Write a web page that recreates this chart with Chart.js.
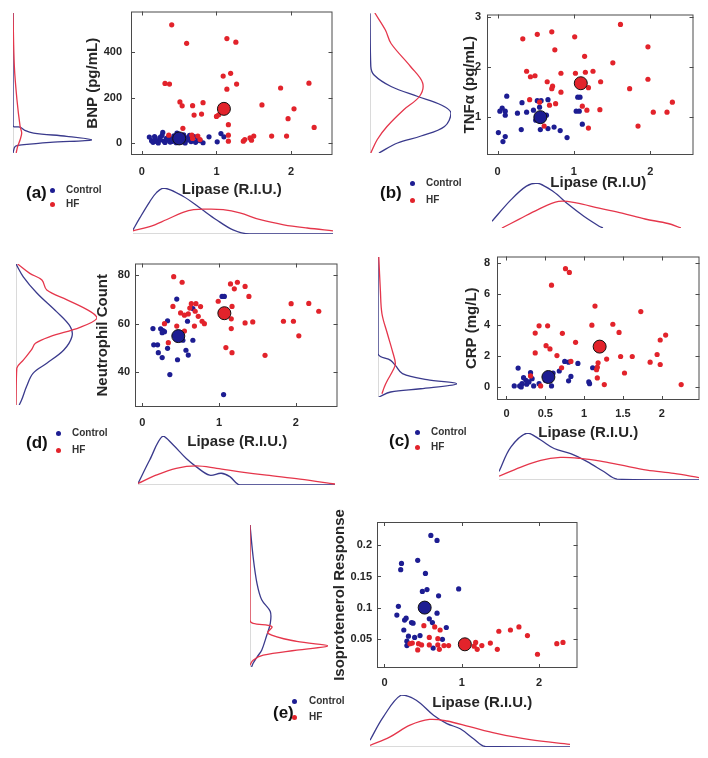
<!DOCTYPE html>
<html>
<head>
<meta charset="utf-8">
<script src="https://cdn.jsdelivr.net/npm/chart.js@4.4.1/dist/chart.umd.min.js"></script>
<style>
  body { margin: 0; background: #fff; }
  #fig { position: relative; width: 708px; height: 758px; overflow: hidden; font-family: "Liberation Sans", Arial, sans-serif; }
  #fig canvas { position: absolute; }
  .txt { position: absolute; font-weight: bold; white-space: nowrap; }
  .dot { position: absolute; width: 5px; height: 5px; border-radius: 50%; }
</style>
</head>
<body>
<div id="fig"></div>
<script>
/* ---------- Data ---------- */
// (a) BNP vs Lipase
const aCtrlX = [0.10,0.13,0.15,0.17,0.18,0.20,0.22,0.24,0.25,0.27,0.28,0.30,0.31,0.33,0.35,0.36,0.38,0.40,0.41,0.43,0.45,0.46,0.48,0.50,0.52,0.53,0.55,0.57,0.58,0.60,0.62,0.64,0.66,0.68,0.70,0.72,0.75,0.78,0.82,0.90,1.01,1.06,1.10,0.47,0.56];
const aCtrlY = [28,12,5,30,18,8,2,25,15,35,48,10,4,22,14,30,6,20,9,33,12,3,26,40,16,7,28,11,2,24,15,35,8,18,30,5,20,12,3,29,7,43,29,45,38];
const aHfX = [0.40,1.14,1.26,0.60,1.19,1.09,0.31,0.37,1.27,1.14,2.24,1.86,0.51,0.54,0.82,0.68,1.61,2.04,0.70,0.80,1.00,1.03,1.96,2.31,1.16,0.55,1.16,1.50,1.45,1.38,1.36,1.47,1.74,1.94,1.16,0.36,0.67,0.75,0.78,0.68];
const aHfY = [518,458,442,437,306,294,262,259,259,237,263,242,181,164,178,165,168,151,124,128,118,125,108,70,82,66,36,32,24,17,10,14,32,32,10,36,36,32,17,22];
const aMeanCtrl = [0.50, 22], aMeanHf = [1.10, 151];
const aBotCtrlX = [-0.12,-0.03,0.10,0.19,0.29,0.54,0.76,0.98,1.20,1.42,2.52];
const aBotCtrlD = [0.09,0.35,0.70,0.90,1.00,0.82,0.57,0.31,0.09,0,0];
const aBotHfX = [-0.12,0.10,0.32,0.54,0.68,0.85,1.07,1.29,1.56,1.87,2.18,2.52];
const aBotHfD = [0.07,0.16,0.31,0.47,0.53,0.54,0.53,0.46,0.31,0.20,0.13,0.07];
const aLeftCtrlV = [561,75,69,55,43,29,14,3,-7,-14,-43];
const aLeftCtrlD = [0,0,0.09,0.15,0.26,0.68,1.00,0.47,0.14,0.03,0];
const aLeftHfV = [561,331,187,72,43,14,-14,-43];
const aLeftHfD = [0,0.017,0.05,0.09,0.11,0.09,0.06,0.04];

// (b) TNFa vs Lipase
const bCtrlX = [0.12,0.06,0.03,0.10,0.10,0.32,0.26,0.38,0.47,0.52,0.57,0.66,0.55,0.50,0.64,0.31,0.56,0.66,0.74,0.82,0.91,0.01,0.07,0.10,1.08,1.05,1.03,1.07,1.11];
const bCtrlY = [1.41,1.17,1.11,1.11,1.03,1.28,1.07,1.09,1.13,1.32,1.32,1.34,1.19,0.93,1.03,0.74,0.74,0.76,0.79,0.72,0.58,0.68,0.50,0.60,1.39,1.39,1.11,1.11,0.85];
const bHfX = [1.61,0.71,0.52,0.33,1.01,0.75,1.97,1.14,1.51,1.25,1.15,1.02,0.83,0.38,0.43,0.49,0.65,0.72,0.71,0.83,1.35,1.97,1.73,1.19,2.29,0.42,0.55,0.76,0.68,1.11,1.34,1.17,2.04,2.22,0.61,1.19,1.84];
const bHfY = [2.85,2.70,2.65,2.56,2.60,2.34,2.40,2.21,2.08,1.91,1.89,1.87,1.87,1.91,1.80,1.82,1.70,1.61,1.56,1.49,1.70,1.75,1.56,1.58,1.29,1.34,1.29,1.26,1.23,1.21,1.14,1.13,1.09,1.09,0.81,0.77,0.81];
const bMeanCtrl = [0.56, 0.99], bMeanHf = [1.09, 1.67];
const bBotCtrlX = [-0.10,0.15,0.35,0.49,0.70,0.90,1.10,1.30,1.35];
const bBotCtrlD = [0.15,0.63,0.93,1.00,0.81,0.52,0.26,0.04,0];
const bBotHfX = [0.03,0.25,0.50,0.77,1.00,1.30,1.60,1.90,2.20,2.37];
const bBotHfD = [0,0.19,0.41,0.59,0.56,0.44,0.33,0.20,0.10,0];
const bLeftCtrlV = [3.05,1.99,1.82,1.59,1.39,1.22,1.06,0.79,0.60,0.46,0.26];
const bLeftCtrlD = [0,0.01,0.05,0.26,0.59,0.88,1.00,0.92,0.63,0.34,0.11];
const bLeftHfV = [3.06,2.72,2.45,1.99,1.66,1.39,1.13,0.79,0.53,0.26];
const bLeftHfD = [0.06,0.19,0.26,0.50,0.65,0.61,0.42,0.21,0.09,0.01];

// (d) Neutrophil count vs Lipase
const dCtrlX = [0.45,1.04,1.07,0.66,0.33,0.14,0.24,0.27,0.29,0.26,0.59,0.15,0.20,0.53,0.66,0.21,0.33,0.57,0.60,0.26,0.46,0.36,1.06];
const dCtrlY = [70.1,71.2,71.2,66.2,61.2,58,57.9,57.2,56.7,56.3,61,51.3,51.3,53.2,53.2,48.1,49.9,49.1,47.1,46.1,45.2,39.1,30.9];
const dHfX = [0.41,0.52,1.24,1.15,1.20,1.34,1.39,0.99,2.17,1.94,2.30,0.40,0.64,0.70,0.76,0.62,0.69,0.50,0.55,0.60,0.73,0.78,0.81,0.29,0.45,0.68,0.55,0.34,1.16,1.16,1.17,1.34,1.44,1.84,1.97,2.04,1.09,1.17,1.60];
const dHfY = [79.3,77,77,76.3,74.3,75.3,71.2,69.2,68.3,68.2,65.1,67.1,68.2,68.2,67,66.4,65.1,64.4,63.5,64,63,61,60,60,59,59,57,52.2,62,58,67.1,60.3,60.7,61,61,55,50.2,48.1,47];
const dMeanCtrl = [0.47, 54.9], dMeanHf = [1.07, 64.3];
const dBotCtrlX = [-0.05,0.10,0.27,0.40,0.57,0.70,0.87,1.02,1.13,1.26,2.48];
const dBotCtrlD = [0.03,0.51,1.00,0.82,0.54,0.37,0.20,0.24,0.17,0,0];
const dBotHfX = [-0.05,0.18,0.44,0.70,0.96,1.26,1.60,2.03,2.48];
const dBotHfD = [0.03,0.20,0.34,0.39,0.34,0.27,0.20,0.12,0.02];
const dLeftCtrlV = [83.8,78.6,71.9,64.4,58.3,54.2,48.8,43.4,39.3,33.9,28.5,26.4];
const dLeftCtrlD = [0,0.09,0.26,0.50,0.67,0.69,0.59,0.38,0.21,0.13,0.07,0.04];
const dLeftHfV = [83.8,80,77.3,73.2,69.2,64.4,61.7,58,54.2,51.5,48.8,44.7,41.4,26.4];
const dLeftHfD = [0.02,0.17,0.32,0.38,0.63,0.92,1.00,0.79,0.42,0.24,0.19,0.09,0.01,0];

// (c) CRP vs Lipase
const cCtrlX = [0.15,0.31,0.75,0.80,0.92,1.11,0.60,0.68,0.83,0.80,1.06,1.07,0.10,0.17,0.20,0.25,0.26,0.29,0.33,0.35,0.42,0.50,0.56,0.58,0.19,0.22];
const cCtrlY = [1.22,0.92,1.65,1.60,1.52,1.24,0.90,1.03,0.68,0.39,0.32,0.21,0.06,0.06,0.21,0.43,0.17,0.32,0.53,0.06,0.21,0.43,0.43,0.06,0.00,0.60];
const cHfX = [0.76,0.81,0.58,1.14,1.73,0.42,0.53,1.10,1.37,0.37,0.72,1.45,2.05,1.98,0.89,0.51,0.56,0.37,0.65,1.47,1.62,1.94,1.85,1.98,1.29,1.18,1.17,1.16,0.83,0.71,1.52,0.31,1.17,0.44,1.26,2.25];
const cHfY = [7.66,7.42,6.59,5.24,4.88,3.96,3.96,4.00,4.06,3.49,3.47,3.53,3.36,3.04,2.89,2.67,2.46,2.20,2.03,1.97,1.97,2.10,1.60,1.45,1.80,1.56,1.28,1.11,1.65,1.24,0.90,0.71,0.58,0.06,0.15,0.15];
const cMeanCtrl = [0.54, 0.64], cMeanHf = [1.20, 2.61];
const cBotCtrlX = [-0.09,0.06,0.27,0.44,0.61,0.82,1.03,1.24,1.41,2.45];
const cBotCtrlD = [0.18,0.70,1.00,0.85,0.67,0.56,0.39,0.18,0.02,0];
const cBotHfX = [-0.09,0.18,0.44,0.69,0.94,1.20,1.45,1.79,2.13,2.45];
const cBotHfD = [0.08,0.27,0.42,0.48,0.46,0.40,0.32,0.21,0.14,0.05];
const cLeftCtrlV = [8.34,2.14,1.71,1.39,0.86,0.47,0.21,-0.11,-0.32,-0.64];
const cLeftCtrlD = [0,0,0.16,0.22,0.31,0.62,1.00,0.54,0.16,0.01];
const cLeftHfV = [8.34,6.2,4.7,3.4,2.35,1.5,1.07,0.43,0,-0.43];
const cLeftHfD = [0.01,0.03,0.05,0.12,0.18,0.22,0.19,0.12,0.08,0.05];

// (e) Isoproterenol response vs Lipase
const eCtrlX = [0.60,0.68,0.43,0.22,0.21,0.53,0.49,0.55,0.70,0.96,0.18,0.16,0.26,0.28,0.68,0.58,0.62,0.35,0.37,0.80,0.25,0.31,0.39,0.46,0.29,0.75,0.63,0.29,1.04];
const eCtrlY = [0.216,0.208,0.176,0.171,0.161,0.155,0.126,0.129,0.119,0.130,0.102,0.088,0.080,0.083,0.091,0.082,0.076,0.076,0.075,0.068,0.064,0.054,0.052,0.055,0.046,0.049,0.035,0.039,0.046];
const eHfX = [0.51,0.65,0.72,0.58,0.69,0.36,0.33,0.44,0.48,0.58,0.69,0.77,0.83,0.43,0.71,1.03,1.18,1.16,1.20,1.26,1.37,1.48,1.63,1.74,1.85,1.46,1.98,2.23,2.31];
const eHfY = [0.071,0.069,0.064,0.052,0.050,0.043,0.042,0.042,0.040,0.040,0.040,0.039,0.039,0.032,0.033,0.038,0.044,0.038,0.033,0.039,0.043,0.062,0.064,0.069,0.055,0.033,0.025,0.042,0.044];
const eMeanCtrl = [0.52, 0.100], eMeanHf = [1.04, 0.041];
const eBotCtrlX = [-0.18,-0.01,0.22,0.41,0.63,0.80,0.97,1.14,1.29,2.37];
const eBotCtrlD = [0.13,0.58,1.00,0.90,0.61,0.45,0.35,0.16,0.01,0];
const eBotHfX = [-0.18,0.07,0.33,0.58,0.80,1.09,1.43,1.86,2.37];
const eBotHfD = [0.03,0.19,0.42,0.53,0.50,0.39,0.26,0.14,0.05];
const eLeftCtrlV = [0.233,0.182,0.139,0.113,0.094,0.075,0.054,0.032,0.021,0.011,0.005];
const eLeftCtrlD = [0,0.04,0.09,0.15,0.26,0.26,0.21,0.15,0.09,0.04,0.02];
const eLeftHfV = [0.233,0.080,0.075,0.070,0.059,0.046,0.039,0.032,0.024,0.016,0.008];
const eLeftHfD = [0,0,0.04,0.28,0.23,0.60,1.00,0.60,0.17,0.04,0];

/* ---------- Styling ---------- */
const BLUE = '#1d1d92', RED = '#e2232b';
const BLUE_LINE = '#3a3a8c', RED_LINE = '#e5364b', BASE = '#b5b5b5';
const TXT = '#262626';
const FONT = '"Liberation Sans", Arial, sans-serif';
const fig = document.getElementById('fig');
Chart.defaults.font.family = FONT;

const pts = (xs, ys) => xs.map((x, i) => ({ x, y: ys[i] }));

function newCanvas(left, top, w, h) {
  const c = document.createElement('canvas');
  c.width = w; c.height = h;
  c.style.left = left + 'px'; c.style.top = top + 'px';
  c.style.width = w + 'px'; c.style.height = h + 'px';
  fig.appendChild(c);
  return c.getContext('2d');
}

// box round the plot, small inward ticks on every side (matlab look),
// and the x title, which sits a little off-centre in some panels
function boxPlugin(xTitle, xOff, xShift) {
  return {
    id: 'box',
    afterDraw(chart) {
      const { ctx, chartArea: a, scales: { x, y } } = chart;
      ctx.save();
      ctx.strokeStyle = '#4a4a4a';
      ctx.lineWidth = 1;
      ctx.strokeRect(a.left + 0.5, a.top + 0.5, a.width - 1, a.height - 1);
      ctx.beginPath();
      x.ticks.forEach(t => {
        const px = Math.round(x.getPixelForValue(t.value)) + 0.5;
        ctx.moveTo(px, a.bottom); ctx.lineTo(px, a.bottom - 4);
        ctx.moveTo(px, a.top); ctx.lineTo(px, a.top + 4);
      });
      y.ticks.forEach(t => {
        const py = Math.round(y.getPixelForValue(t.value)) + 0.5;
        ctx.moveTo(a.left, py); ctx.lineTo(a.left + 4, py);
        ctx.moveTo(a.right, py); ctx.lineTo(a.right - 4, py);
      });
      ctx.stroke();
      ctx.fillStyle = TXT;
      ctx.font = 'bold 15px ' + FONT;
      ctx.textAlign = 'center';
      ctx.textBaseline = 'middle';
      ctx.fillText(xTitle, (a.left + a.right) / 2 + xShift, a.bottom + xOff);
      ctx.restore();
    }
  };
}

function scatterPanel(p) {
  const [L, T, R, B] = p.box;
  const padTop = p.padTop || 6, padRight = 5;
  const ctx = newCanvas(L - p.yw, T - padTop, R - L + p.yw + padRight, B - T + padTop + p.xh);
  const tickFont = { size: 11, weight: 'bold' };
  const titleFont = { size: 15, weight: 'bold' };
  new Chart(ctx, {
    type: 'scatter',
    data: {
      datasets: [
        { label: 'Control mean', data: [{ x: p.mCtrl[0], y: p.mCtrl[1] }], backgroundColor: BLUE, borderColor: '#111', borderWidth: 1, pointRadius: 6.5, order: 0 },
        { label: 'HF mean', data: [{ x: p.mHf[0], y: p.mHf[1] }], backgroundColor: RED, borderColor: '#111', borderWidth: 1, pointRadius: 6.5, order: 0 },
        { label: 'HF', data: pts(p.hfX, p.hfY), backgroundColor: RED, borderColor: RED, borderWidth: 0, pointRadius: 2.6, order: 1 },
        { label: 'Control', data: pts(p.ctrlX, p.ctrlY), backgroundColor: BLUE, borderColor: BLUE, borderWidth: 0, pointRadius: 2.6, order: 2 }
      ]
    },
    options: {
      responsive: false,
      animation: false,
      layout: { padding: { top: padTop, right: padRight, left: 0, bottom: 0 } },
      plugins: { legend: { display: false }, tooltip: { enabled: false } },
      scales: {
        x: {
          type: 'linear', min: p.xr[0], max: p.xr[1],
          afterBuildTicks: s => { s.ticks = p.xTicks.map(v => ({ value: v })); },
          afterFit: s => { s.height = p.xh; s.paddingLeft = 0; s.paddingRight = 0; },
          grid: { display: false, drawTicks: false },
          border: { display: false },
          ticks: { padding: p.xPad, color: TXT, font: tickFont, maxRotation: 0, autoSkip: false, callback: v => String(v) },
          title: { display: false }
        },
        y: {
          type: 'linear', min: p.yr[0], max: p.yr[1],
          afterBuildTicks: s => { s.ticks = p.yTicks.map(v => ({ value: v })); },
          afterFit: s => { s.width = p.yw; s.paddingTop = 0; s.paddingBottom = 0; },
          grid: { display: false, drawTicks: false },
          border: { display: false },
          ticks: { padding: p.yPad, color: TXT, font: tickFont, autoSkip: false, callback: v => String(v) },
          title: { display: true, text: p.yTitle, color: TXT, font: titleFont, padding: { top: 4, bottom: 0 } }
        }
      }
    },
    plugins: [boxPlugin(p.xTitle, p.xOff, p.xShift || 0)]
  });
}

// density curves; side 'bottom' -> (value, density), side 'left' -> (density, value)
function densityPanel(side, rect, range, ctrlV, ctrlD, hfV, hfD, baseline) {
  const [L, T, R, B] = rect;
  const P = 3;
  const ctx = newCanvas(L - P, T - P, R - L + 2 * P, B - T + 2 * P);
  const bottom = side === 'bottom';
  const mk = (vs, ds) => bottom ? pts(vs, ds) : pts(ds, vs);
  const line = (data, color, w) => ({ data, showLine: true, borderColor: color, borderWidth: w, pointRadius: 0, tension: 0.35, fill: false });
  const sets = [];
  if (baseline) {
    const base = bottom ? [{ x: range[0], y: 0 }, { x: range[1], y: 0 }] : [{ x: 0, y: range[0] }, { x: 0, y: range[1] }];
    sets.push(Object.assign(line(base, BASE, 1), { tension: 0, order: 3 }));
  }
  sets.push(Object.assign(line(mk(ctrlV, ctrlD), BLUE_LINE, 1.3), { order: 2 }));
  sets.push(Object.assign(line(mk(hfV, hfD), RED_LINE, 1.3), { order: 1 }));
  new Chart(ctx, {
    type: 'scatter',
    data: { datasets: sets },
    options: {
      responsive: false,
      animation: false,
      layout: { padding: P },
      plugins: { legend: { display: false }, tooltip: { enabled: false } },
      scales: {
        x: { type: 'linear', display: false, min: bottom ? range[0] : 0, max: bottom ? range[1] : 1 },
        y: { type: 'linear', display: false, min: bottom ? 0 : range[0], max: bottom ? 1 : range[1] }
      }
    }
  });
}

function text(str, left, cy, size, color) {
  const d = document.createElement('div');
  d.className = 'txt';
  d.textContent = str;
  d.style.left = left + 'px';
  d.style.top = (cy - size / 2) + 'px';
  d.style.fontSize = size + 'px';
  d.style.lineHeight = size + 'px';
  d.style.color = color;
  fig.appendChild(d);
}

function legend(tag, tagLeft, tagY, dotX, y1, y2, textLeft) {
  text(tag, tagLeft, tagY, 17, '#111');
  [[y1, BLUE], [y2, RED]].forEach(([y, c]) => {
    const d = document.createElement('div');
    d.className = 'dot';
    d.style.left = (dotX - 2.5) + 'px';
    d.style.top = (y - 2.5) + 'px';
    d.style.background = c;
    fig.appendChild(d);
  });
  text('Control', textLeft, y1, 10, '#333');
  text('HF', textLeft, y2, 10, '#333');
}

/* ---------- Panels ---------- */
scatterPanel({ box: [131, 10, 335, 155], xr: [-0.146, 2.556], yr: [-50.5, 576], xTicks: [0, 1, 2], yTicks: [0, 200, 400],
  xTitle: 'Lipase (R.I.U.)', yTitle: 'BNP (pg/mL)', yw: 51, xh: 48, xPad: 10, yPad: 9, xOff: 35, xShift: 0,
  ctrlX: aCtrlX, ctrlY: aCtrlY, hfX: aHfX, hfY: aHfY, mCtrl: aMeanCtrl, mHf: aMeanHf });
densityPanel('bottom', [133, 188, 333, 234], [-0.12, 2.52], aBotCtrlX, aBotCtrlD, aBotHfX, aBotHfD, true);
densityPanel('left', [13, 13, 92, 153], [-43, 561], aLeftCtrlV, aLeftCtrlD, aLeftHfV, aLeftHfD, true);
legend('(a)', 26, 192, 52, 190, 204, 66);

scatterPanel({ box: [487, 13, 696, 155], xr: [-0.139, 2.567], yr: [0.231, 3.048], xTicks: [0, 1, 2], yTicks: [1, 2, 3],
  xTitle: 'Lipase (R.I.U)', yTitle: 'TNFα (pg/mL)', yw: 30, xh: 41, xPad: 10, yPad: 6, xOff: 28, xShift: 8,
  ctrlX: bCtrlX, ctrlY: bCtrlY, hfX: bHfX, hfY: bHfY, mCtrl: bMeanCtrl, mHf: bMeanHf });
densityPanel('bottom', [492, 183, 681, 228], [-0.1, 2.37], bBotCtrlX, bBotCtrlD, bBotHfX, bBotHfD, false);
densityPanel('left', [370, 13, 451, 153], [0.26, 3.06], bLeftCtrlV, bLeftCtrlD, bLeftHfV, bLeftHfD, true);
legend('(b)', 380, 192, 412, 183, 200, 426);

scatterPanel({ box: [135, 262, 340, 407], xr: [-0.094, 2.544], yr: [25.8, 84.7], xTicks: [0, 1, 2], yTicks: [40, 60, 80],
  xTitle: 'Lipase (R.I.U.)', yTitle: 'Neutrophil Count', yw: 45, xh: 48, xPad: 9, yPad: 5, xOff: 35, xShift: 1,
  ctrlX: dCtrlX, ctrlY: dCtrlY, hfX: dHfX, hfY: dHfY, mCtrl: dMeanCtrl, mHf: dMeanHf });
densityPanel('bottom', [138, 436, 335, 485], [-0.05, 2.48], dBotCtrlX, dBotCtrlD, dBotHfX, dBotHfD, true);
densityPanel('left', [16, 264, 97, 405], [26.4, 83.8], dLeftCtrlV, dLeftCtrlD, dLeftHfV, dLeftHfD, true);
legend('(d)', 26, 442, 58, 433, 450, 72);

scatterPanel({ box: [497, 255, 702, 400], xr: [-0.122, 2.486], yr: [-0.85, 8.45], xTicks: [0, 0.5, 1, 1.5, 2], yTicks: [0, 2, 4, 6, 8],
  xTitle: 'Lipase (R.I.U.)', yTitle: 'CRP (mg/L)', yw: 38, xh: 46, xPad: 7, yPad: 7, xOff: 33, xShift: -10,
  ctrlX: cCtrlX, ctrlY: cCtrlY, hfX: cHfX, hfY: cHfY, mCtrl: cMeanCtrl, mHf: cMeanHf });
densityPanel('bottom', [499, 433, 699, 480], [-0.09, 2.45], cBotCtrlX, cBotCtrlD, cBotHfX, cBotHfD, true);
densityPanel('left', [378, 257, 457, 397], [-0.64, 8.34], cLeftCtrlV, cLeftCtrlD, cLeftHfV, cLeftHfD, true);
legend('(c)', 389, 440, 417, 432, 447, 431);

scatterPanel({ box: [377, 522, 580, 668], xr: [-0.097, 2.498], yr: [0.0029, 0.2376], xTicks: [0, 1, 2], yTicks: [0.05, 0.1, 0.15, 0.2],
  xTitle: 'Lipase (R.I.U.)', yTitle: 'Isoprotenerol Response', yw: 50, xh: 48, xPad: 8, yPad: 5, padTop: 16, xOff: 35, xShift: 5,
  ctrlX: eCtrlX, ctrlY: eCtrlY, hfX: eHfX, hfY: eHfY, mCtrl: eMeanCtrl, mHf: eMeanHf });
densityPanel('bottom', [370, 695, 570, 747], [-0.18, 2.37], eBotCtrlX, eBotCtrlD, eBotHfX, eBotHfD, true);
densityPanel('left', [250, 525, 328, 667], [0.005, 0.233], eLeftCtrlV, eLeftCtrlD, eLeftHfV, eLeftHfD, true);
legend('(e)', 273, 712, 294, 701, 717, 309);
</script>
</body>
</html>
